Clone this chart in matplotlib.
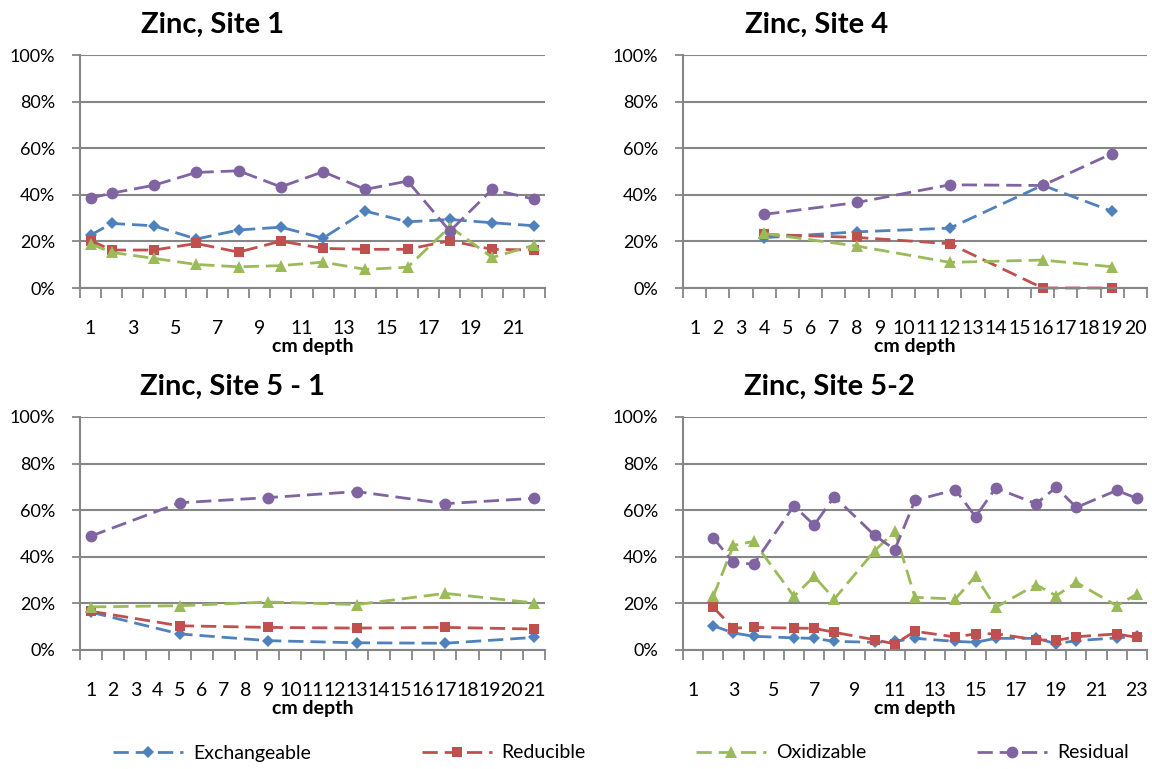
import numpy as np
import matplotlib
matplotlib.use("Agg")
import matplotlib.pyplot as plt
from matplotlib.ticker import FixedLocator, PercentFormatter
from matplotlib.lines import Line2D

plt.rcParams['font.family'] = ['Lato', 'DejaVu Sans']

# Series names and colours (Excel 2007 palette)
nomes = ["Exchangeable", "Reducible", "Oxidizable", "Residual"]
cores = ["#4F81BD", "#C0504D", "#9BBB59", "#8064A2"]
marcadores = ["D", "s", "^", "o"]
tam_marc = [6.5, 6.5, 8, 8.5]

# Zinc, Site 1 (22 depth categories)
s1_n = 22
s1_x = [1, 2, 4, 6, 8, 10, 12, 14, 16, 18, 20, 22]
s1_exch = [22.7, 27.7, 26.7, 21.0, 24.9, 26.1, 21.4, 33.0, 28.4, 29.4, 28.0, 26.7]
s1_red = [20.3, 16.3, 16.3, 19.1, 15.4, 20.1, 17.0, 16.6, 16.6, 20.3, 16.6, 16.3]
s1_oxi = [18.9, 15.3, 12.7, 10.1, 9.1, 9.6, 11.1, 8.0, 8.9, 26.3, 13.1, 18.4]
s1_res = [38.6, 40.7, 44.1, 49.6, 50.3, 43.4, 49.9, 42.3, 45.9, 24.4, 42.3, 38.1]
s1_rotulos = list(range(1, 23, 2))

# Zinc, Site 4 (20 depth categories)
s4_n = 20
s4_x = [4, 8, 12, 16, 19]
s4_exch = [21.6, 24.1, 25.7, 44.1, 32.9]
s4_red = [23.0, 21.7, 19.0, 0.0, 0.0]
s4_oxi = [23.4, 18.0, 11.0, 12.0, 9.1]
s4_res = [31.6, 36.7, 44.3, 44.0, 57.7]
s4_rotulos = list(range(1, 21))

# Zinc, Site 5 - 1 (21 depth categories)
s51_n = 21
s51_x = [1, 5, 9, 13, 17, 21]
s51_exch = [16.2, 6.9, 4.0, 3.1, 2.9, 5.4]
s51_red = [16.6, 10.4, 9.7, 9.4, 9.7, 9.0]
s51_oxi = [18.5, 19.0, 20.6, 19.5, 24.3, 20.2]
s51_res = [48.9, 63.2, 65.4, 68.0, 62.8, 65.1]
s51_rotulos = list(range(1, 22))

# Zinc, Site 5-2 (23 depth categories)
s52_n = 23
s52_x = [2, 3, 4, 6, 7, 8, 10, 11, 12, 14, 15, 16, 18, 19, 20, 22, 23]
s52_exch = [10.4, 7.3, 5.9, 5.2, 5.0, 3.7, 3.3, 3.7, 5.0, 3.7, 3.3, 5.0, 5.0, 2.7, 4.0, 5.2, 5.9]
s52_red = [18.3, 9.4, 9.7, 9.4, 9.3, 7.6, 4.4, 2.6, 8.0, 5.6, 6.9, 7.0, 4.4, 4.1, 5.7, 6.9, 5.4]
s52_oxi = [23.0, 44.9, 46.6, 23.0, 31.6, 21.9, 42.6, 50.9, 22.6, 21.9, 31.6, 18.3, 28.0, 23.3, 29.0, 19.0, 24.0]
s52_res = [48.1, 37.6, 36.8, 61.9, 53.6, 65.8, 49.2, 43.1, 64.2, 68.8, 57.2, 69.5, 62.8, 69.8, 61.2, 68.5, 65.1]
s52_rotulos = list(range(1, 24, 2))

sites = [
    ("Zinc, Site 1", s1_n, s1_x, [s1_exch, s1_red, s1_oxi, s1_res], s1_rotulos, 0.286),
    ("Zinc, Site 4", s4_n, s4_x, [s4_exch, s4_red, s4_oxi, s4_res], s4_rotulos, 0.287),
    ("Zinc, Site 5 - 1", s51_n, s51_x, [s51_exch, s51_red, s51_oxi, s51_res], s51_rotulos, 0.329),
    ("Zinc, Site 5-2", s52_n, s52_x, [s52_exch, s52_red, s52_oxi, s52_res], s52_rotulos, 0.315),
]

W, H = 1152, 769
fig = plt.figure(figsize=(W / 100, H / 100), dpi=100)

# caixas dos eixos em pixels: esquerda, topo, direita, base
caixas = [(80, 55, 545, 288), (683, 55, 1147, 288),
          (80, 417, 545, 650), (683, 417, 1147, 650)]

cinza = "#868686"
for (titulo, n, xs, series, rotulos, tx), (l, t, r, b) in zip(sites, caixas):
    ax = fig.add_axes([l / W, 1 - b / H, (r - l) / W, (b - t) / H])
    for serie, cor, mk, ms, nome in zip(series, cores, marcadores, tam_marc, nomes):
        ax.plot(xs, np.array(serie) / 100, color=cor, lw=2, dashes=(5.5, 2.5),
                marker=mk, markersize=ms, markeredgewidth=0, label=nome,
                clip_on=False)
    ax.set_xlim(0.5, n + 0.5)
    ax.set_ylim(0, 1)
    ax.set_yticks(np.arange(0, 1.01, 0.2))
    ax.yaxis.set_major_formatter(PercentFormatter(1.0, decimals=0))
    ax.yaxis.grid(True, color=cinza, lw=1.5)
    ax.set_axisbelow(True)
    ax.set_xticks(rotulos)
    ax.set_xticklabels([str(v) for v in rotulos])
    ax.xaxis.set_minor_locator(FixedLocator(np.arange(0.5, n + 1, 1)))
    ax.tick_params(axis='x', which='major', length=0, pad=23, labelsize=14)
    ax.tick_params(axis='x', which='minor', length=7, width=1.3, color=cinza)
    ax.tick_params(axis='y', length=6, width=1.3, color=cinza, pad=12, labelsize=13)
    for lado in ["top", "right"]:
        ax.spines[lado].set_visible(False)
    for lado in ["left", "bottom"]:
        ax.spines[lado].set_color(cinza)
        ax.spines[lado].set_linewidth(1.5)
    ax.set_xlabel("cm depth", fontsize=14, fontweight="bold", labelpad=1)
    ax.text(tx, 1 + 30 / (b - t), titulo, transform=ax.transAxes, ha="center",
            va="center", fontsize=21, fontweight="bold")

handles = [Line2D([], [], color=c, lw=2, dashes=(5.5, 2.5), marker=m, markersize=s,
                  markeredgewidth=0) for c, m, s in zip(cores, marcadores, tam_marc)]
fig.legend(handles, nomes, loc="center", bbox_to_anchor=(621 / W, 1 - 753 / H),
           ncol=4, frameon=False, fontsize=14, handlelength=3.6,
           handletextpad=0.5, columnspacing=5.7)

fig.savefig("out.png", dpi=100)
